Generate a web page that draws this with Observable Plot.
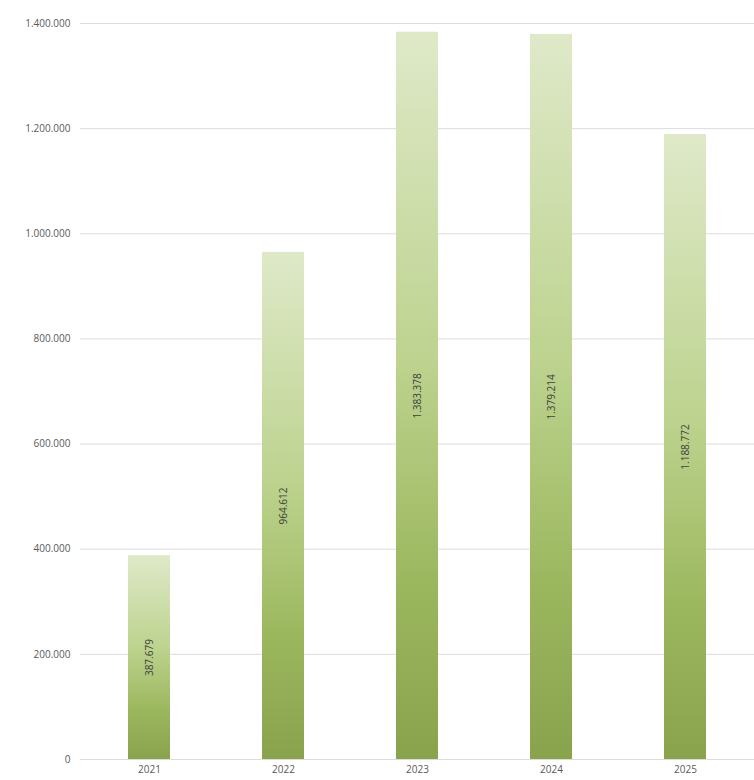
<!DOCTYPE html>
<html>
<head>
<meta charset="utf-8">
<script src="https://cdn.jsdelivr.net/npm/d3@7"></script>
<script src="https://cdn.jsdelivr.net/npm/@observablehq/plot@0.6"></script>
<style>
  html, body { margin: 0; padding: 0; background: #fff; }
  #chart svg { display: block; }
</style>
</head>
<body>
<div id="chart"></div>
<script>
const years = ["2021", "2022", "2023", "2024", "2025"];
const values = [387679, 964612, 1383378, 1379214, 1188772];
const yTicks = [0, 200000, 400000, 600000, 800000, 1000000, 1200000, 1400000];

const data = years.map((y, i) => ({year: y, value: values[i]}));
const locale = d3.formatLocale({decimal: ",", thousands: ".", grouping: [3], currency: ["", ""]});
const fmt = locale.format(",d");

const chart = Plot.plot({
  width: 754,
  height: 780,
  marginLeft: 80,
  marginRight: 0,
  marginTop: 23,
  marginBottom: 21,
  style: {fontFamily: "'Open Sans', sans-serif", fontSize: "10px", color: "#595959", background: "#fff"},
  x: {domain: years, paddingInner: 0.69, paddingOuter: 0.345, label: null, tickSize: 0, tickPadding: 6},
  y: {domain: [0, 1400000], ticks: yTicks, tickFormat: fmt, label: null, tickSize: 0, tickPadding: 10},
  marks: [
    Plot.ruleY(yTicks, {stroke: "#dcdcdc", strokeWidth: 1}),
    Plot.barY(data, {x: "year", y: "value", fill: "url(#barGrad)"}),
    Plot.text(data, {x: "year", y: d => d.value / 2, text: d => fmt(d.value), rotate: -90, fill: "#404040", fontSize: 10})
  ]
});

const svg = d3.select(chart);
const defs = svg.insert("defs", ":first-child");
const g = defs.append("linearGradient").attr("id", "barGrad")
  .attr("x1", 0).attr("y1", 1).attr("x2", 0).attr("y2", 0);
g.append("stop").attr("offset", "0%").attr("stop-color", "#89a34c");
g.append("stop").attr("offset", "25%").attr("stop-color", "#9cb85f");
g.append("stop").attr("offset", "55%").attr("stop-color", "#bdd38f");
g.append("stop").attr("offset", "100%").attr("stop-color", "#dfe9c9");

document.getElementById("chart").appendChild(chart);
</script>
</body>
</html>
